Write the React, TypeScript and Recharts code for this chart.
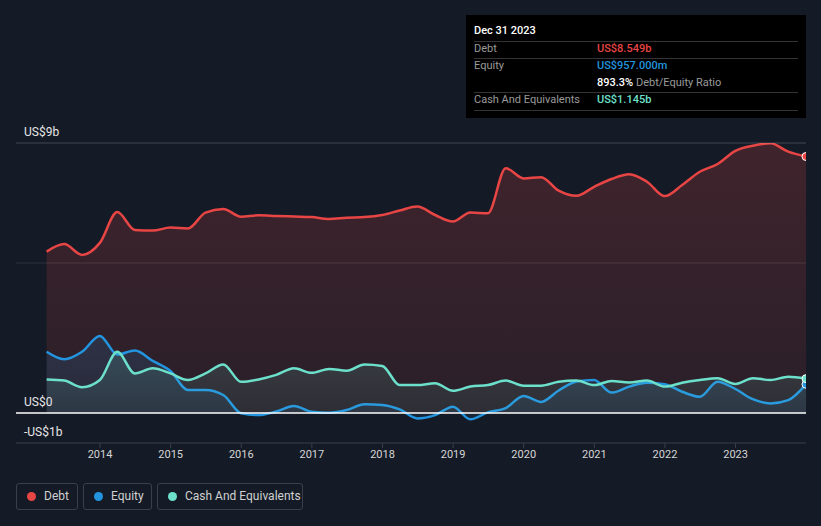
import { Area, AreaChart, ReferenceLine, XAxis, YAxis } from "recharts";

const quarterEnds = [
  "2013-03-31", "2013-06-30", "2013-09-30", "2013-12-31",
  "2014-03-31", "2014-06-30", "2014-09-30", "2014-12-31",
  "2015-03-31", "2015-06-30", "2015-09-30", "2015-12-31",
  "2016-03-31", "2016-06-30", "2016-09-30", "2016-12-31",
  "2017-03-31", "2017-06-30", "2017-09-30", "2017-12-31",
  "2018-03-31", "2018-06-30", "2018-09-30", "2018-12-31",
  "2019-03-31", "2019-06-30", "2019-09-30", "2019-12-31",
  "2020-03-31", "2020-06-30", "2020-09-30", "2020-12-31",
  "2021-03-31", "2021-06-30", "2021-09-30", "2021-12-31",
  "2022-03-31", "2022-06-30", "2022-09-30", "2022-12-31",
  "2023-03-31", "2023-06-30", "2023-09-30", "2023-12-31",
];

// US$ billions
const debt = [
  5.38, 5.63, 5.27, 5.67, 6.7, 6.1, 6.08, 6.18, 6.15, 6.68, 6.8, 6.54,
  6.59, 6.57, 6.55, 6.53, 6.47, 6.51, 6.53, 6.6, 6.75, 6.88, 6.6, 6.38,
  6.68, 6.66, 8.16, 7.82, 7.86, 7.41, 7.24, 7.54, 7.8, 7.96, 7.71, 7.23,
  7.6, 8.04, 8.3, 8.74, 8.91, 8.99, 8.71, 8.549,
];
const equity = [
  2.04, 1.79, 2.04, 2.57, 1.95, 2.08, 1.74, 1.4, 0.77, 0.77, 0.6, -0.01,
  -0.07, 0.05, 0.23, 0.04, 0.01, 0.1, 0.29, 0.27, 0.12, -0.18, -0.07, 0.21,
  -0.21, 0.02, 0.16, 0.57, 0.37, 0.75, 1.05, 1.1, 0.68, 0.88, 1.01, 0.96,
  0.71, 0.54, 1.04, 0.8, 0.46, 0.32, 0.43, 0.957,
];
const cash = [
  1.12, 1.08, 0.86, 1.1, 2.04, 1.32, 1.49, 1.32, 1.1, 1.32, 1.62, 1.04,
  1.12, 1.27, 1.49, 1.34, 1.47, 1.41, 1.62, 1.57, 0.93, 0.93, 0.99, 0.74,
  0.88, 0.93, 1.08, 0.91, 0.91, 1.04, 1.08, 0.93, 1.07, 1.02, 1.08, 0.88,
  1.01, 1.1, 1.16, 0.97, 1.16, 1.1, 1.21, 1.145,
];

const yearTicks = [2014, 2015, 2016, 2017, 2018, 2019, 2020, 2021, 2022, 2023];

const DEBT = "#e84545";
const EQUITY = "#2394df";
const CASH = "#6ce0cb";
const BG = "#151b26";

const toYear = (s: string) => {
  const d = new Date(s + "T00:00:00Z");
  const y = d.getUTCFullYear();
  const start = Date.UTC(y, 0, 1);
  const end = Date.UTC(y + 1, 0, 1);
  return y + (d.getTime() - start) / (end - start);
};

const data = quarterEnds.map((q, i) => ({
  t: toYear(q),
  debt: debt[i],
  equity: equity[i],
  cash: cash[i],
}));
const last = data.length - 1;

const endDot = (color: string) => (p: any) =>
  p.index === last ? (
    <circle key={p.index} cx={p.cx} cy={p.cy} r={4} fill={color} stroke="#fff" strokeWidth={1} />
  ) : (
    <g key={p.index} />
  );

const yLabel = (text: string) => (p: any) => (
  <text x={24} y={p.viewBox.y - 7} fill="#e6e6e6" fontSize={12} fontFamily="Roboto">
    {text}
  </text>
);

function InfoBox() {
  const d = debt[last];
  const e = equity[last];
  const c = cash[last];
  const row = { position: "absolute" as const, left: 8, fontSize: 11, color: "#9a9a9a" };
  const val = { position: "absolute" as const, left: 131, fontSize: 11, fontWeight: 500 };
  const line = (top: number) => (
    <div style={{ position: "absolute", left: 8, width: 324, top, height: 1, background: "#333" }} />
  );
  return (
    <div
      style={{
        position: "absolute",
        left: 466,
        top: 15,
        width: 340,
        height: 103,
        background: "#000",
        fontFamily: "Roboto",
      }}
    >
      <div style={{ position: "absolute", left: 8, top: 9, fontSize: 11, color: "#fff", fontWeight: 500 }}>
        Dec 31 2023
      </div>
      {line(26)}
      <div style={{ ...row, top: 27 }}>Debt</div>
      <div style={{ ...val, top: 27, color: DEBT }}>US${d.toFixed(3)}b</div>
      {line(43)}
      <div style={{ ...row, top: 44 }}>Equity</div>
      <div style={{ ...val, top: 44, color: EQUITY }}>US${(e * 1000).toFixed(3)}m</div>
      <div style={{ ...val, top: 61, color: "#9a9a9a", fontWeight: 400 }}>
        <span style={{ color: "#fff", fontWeight: 500 }}>{((d / e) * 100).toFixed(1)}%</span> Debt/Equity Ratio
      </div>
      {line(77)}
      <div style={{ ...row, top: 78 }}>Cash And Equivalents</div>
      <div style={{ ...val, top: 78, color: CASH }}>US${c.toFixed(3)}b</div>
      {line(95)}
    </div>
  );
}

function Legend() {
  const items = [
    { name: "Debt", color: DEBT, left: 16, width: 62 },
    { name: "Equity", color: EQUITY, left: 83, width: 69 },
    { name: "Cash And Equivalents", color: CASH, left: 157, width: 146 },
  ];
  return (
    <>
      {items.map((it) => (
        <div
          key={it.name}
          style={{
            position: "absolute",
            left: it.left,
            top: 483,
            width: it.width,
            height: 27,
            boxSizing: "border-box",
            border: "1px solid #3a404b",
            borderRadius: 3,
            fontFamily: "Roboto",
            fontSize: 12,
            color: "#d0d0d0",
          }}
        >
          <div
            style={{
              position: "absolute",
              left: 10,
              top: 8,
              width: 9,
              height: 9,
              borderRadius: "50%",
              background: it.color,
            }}
          />
          <div style={{ position: "absolute", left: 27, top: 5 }}>{it.name}</div>
        </div>
      ))}
    </>
  );
}

export default function App() {
  return (
    <div
      style={{
        position: "absolute",
        left: 0,
        top: 0,
        width: 821,
        height: 526,
        background: BG,
        overflow: "hidden",
      }}
    >
      <AreaChart
        width={821}
        height={526}
        data={data}
        margin={{ top: 143, right: 15, left: 16, bottom: 0 }}
      >
        <defs>
          <linearGradient id="debtFill" x1="0" y1="0" x2="0" y2="1">
            <stop offset="0%" stopColor={DEBT} stopOpacity={0.34} />
            <stop offset="100%" stopColor={DEBT} stopOpacity={0.16} />
          </linearGradient>
          <linearGradient id="eqFill" x1="0" y1="0" x2="0" y2="1">
            <stop offset="0%" stopColor={EQUITY} stopOpacity={0.25} />
            <stop offset="100%" stopColor={EQUITY} stopOpacity={0.15} />
          </linearGradient>
          <linearGradient id="cashFill" x1="0" y1="0" x2="0" y2="1">
            <stop offset="0%" stopColor={CASH} stopOpacity={0.25} />
            <stop offset="100%" stopColor={CASH} stopOpacity={0.12} />
          </linearGradient>
        </defs>
        <XAxis
          dataKey="t"
          type="number"
          domain={[2012.81, data[last].t]}
          ticks={yearTicks}
          height={83}
          axisLine={{ stroke: "#3a404b" }}
          tickLine={{ stroke: "#3a404b" }}
          tickSize={5}
          tick={{ fill: "#d6d6d6", fontSize: 11, fontFamily: "Roboto" }}
          allowDataOverflow
        />
        <YAxis type="number" domain={[-1, 9]} width={0} hide allowDataOverflow />
        <ReferenceLine y={-1} stroke="none" label={yLabel("-US$1b")} />
        <Area
          type="monotone"
          dataKey="debt"
          stroke={DEBT}
          strokeWidth={2.5}
          fill="url(#debtFill)"
          dot={endDot(DEBT)}
          activeDot={false}
          isAnimationActive={false}
        />
        <Area
          type="monotone"
          dataKey="equity"
          stroke={EQUITY}
          strokeWidth={2.5}
          fill="url(#eqFill)"
          dot={endDot(EQUITY)}
          activeDot={false}
          isAnimationActive={false}
        />
        <Area
          type="monotone"
          dataKey="cash"
          stroke={CASH}
          strokeWidth={2.5}
          fill="url(#cashFill)"
          dot={endDot(CASH)}
          activeDot={false}
          isAnimationActive={false}
        />
        <ReferenceLine y={9} stroke="rgba(255,255,255,0.2)" strokeWidth={1} label={yLabel("US$9b")} />
        <ReferenceLine y={5} stroke="rgba(255,255,255,0.1)" strokeWidth={1} />
        <ReferenceLine y={0} stroke="#ffffff" strokeWidth={1.5} label={yLabel("US$0")} />
      </AreaChart>
      <InfoBox />
      <Legend />
    </div>
  );
}
